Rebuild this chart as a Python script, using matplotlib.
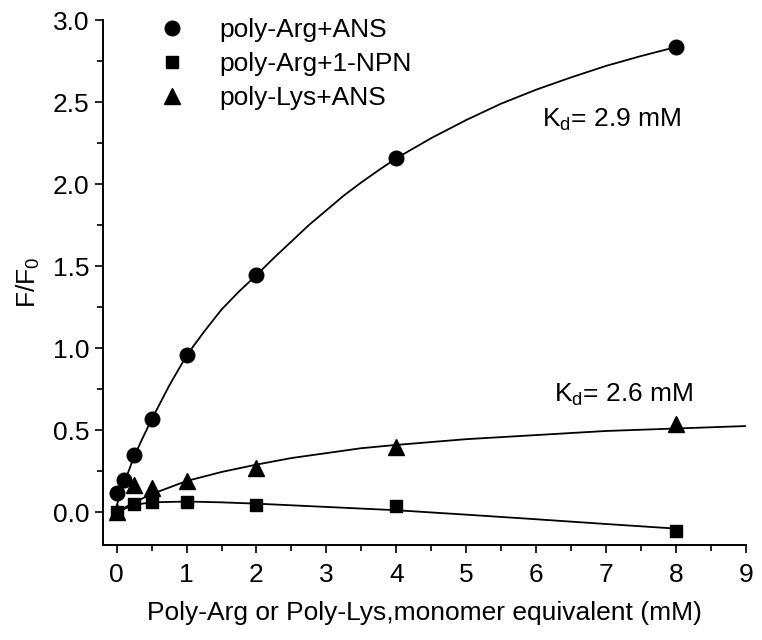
import numpy as np
import matplotlib
matplotlib.use('Agg')
import matplotlib.pyplot as plt
from matplotlib.ticker import MultipleLocator

plt.rcParams['font.family'] = ['Liberation Sans', 'DejaVu Sans']
plt.rcParams['mathtext.default'] = 'regular'

# measured points
arg_ans_x = [0.0, 0.1, 0.25, 0.5, 1, 2, 4, 8]
arg_ans_y = [0.12, 0.195, 0.35, 0.565, 0.957, 1.445, 2.157, 2.837]
arg_npn_x = [0.0, 0.25, 0.5, 1, 2, 4, 8]
arg_npn_y = [0.0, 0.05, 0.063, 0.063, 0.045, 0.037, -0.112]
lys_ans_x = [0.0, 0.25, 0.5, 1, 2, 4, 8]
lys_ans_y = [0.0, 0.165, 0.145, 0.19, 0.27, 0.398, 0.54]

# fitted curves
fit_arg_ans_x = [0, 0.1, 0.25, 0.375, 0.5, 0.75, 1, 1.25, 1.5, 1.75, 2, 2.25, 2.5, 2.75, 3, 3.25, 3.5, 3.75, 4,
                 4.5, 5, 5.5, 6, 6.5, 7, 7.5, 8]
fit_arg_ans_y = [0.04, 0.17, 0.34, 0.455, 0.565, 0.77, 0.955, 1.10, 1.235, 1.345, 1.445, 1.55, 1.65, 1.75, 1.84,
                 1.93, 2.01, 2.085, 2.157, 2.28, 2.39, 2.49, 2.575, 2.65, 2.72, 2.78, 2.835]
fit_arg_npn_x = [0, 0.25, 0.5, 1, 1.5, 2, 3, 4, 5, 6, 7, 8]
fit_arg_npn_y = [0.0, 0.045, 0.06, 0.065, 0.06, 0.052, 0.032, 0.012, -0.015, -0.043, -0.072, -0.10]
fit_lys_ans_x = [0, 0.25, 0.5, 0.75, 1, 1.5, 2, 2.5, 3, 3.5, 4, 5, 6, 7, 8, 9]
fit_lys_ans_y = [0.0, 0.06, 0.11, 0.15, 0.19, 0.245, 0.29, 0.33, 0.36, 0.39, 0.41, 0.445, 0.47, 0.495, 0.51, 0.525]

fig = plt.figure(figsize=(7.62, 6.4), dpi=100)
ax = fig.add_axes([102.7/762, 1-545/640, 643/762, 525/640])

ax.plot(fit_arg_ans_x, fit_arg_ans_y, color='black', lw=1.3, zorder=2)
ax.plot(fit_arg_npn_x, fit_arg_npn_y, color='black', lw=1.3, zorder=2)
ax.plot(fit_lys_ans_x, fit_lys_ans_y, color='black', lw=1.3, zorder=2)

ax.plot(arg_ans_x, arg_ans_y, 'o', color='black', ms=10.5, ls='none', label='poly-Arg+ANS', zorder=3)
ax.plot(arg_npn_x, arg_npn_y, 's', color='black', ms=8, ls='none', label='poly-Arg+1-NPN', zorder=3)
ax.plot(lys_ans_x, lys_ans_y, '^', color='black', ms=11, ls='none', label='poly-Lys+ANS', zorder=3)

ax.set_xlim(-0.2, 9)
ax.set_ylim(-0.2, 3.0)
ax.xaxis.set_major_locator(MultipleLocator(1))
ax.xaxis.set_minor_locator(MultipleLocator(0.5))
ax.yaxis.set_major_locator(MultipleLocator(0.5))
ax.yaxis.set_minor_locator(MultipleLocator(0.25))
ax.yaxis.set_major_formatter(matplotlib.ticker.FormatStrFormatter('%.1f'))

for s in ['top', 'right']:
  ax.spines[s].set_visible(False)
for s in ['left', 'bottom']:
  ax.spines[s].set_linewidth(1.4)
ax.tick_params(which='major', direction='out', length=6, width=1.2, labelsize=19)
ax.tick_params(axis='x', which='major', pad=7)
ax.tick_params(which='minor', direction='out', length=4, width=1.2)

ax.set_xlabel('Poly-Arg or Poly-Lys,monomer equivalent (mM)', fontsize=19, labelpad=10)
ax.set_ylabel('F/F$_0$', fontsize=19, labelpad=8)

ax.text(6.08, 2.35, 'K$_d$= 2.9 mM', fontsize=19, va='baseline', ha='left')
ax.text(6.26, 0.673, 'K$_d$= 2.6 mM', fontsize=19, va='baseline', ha='left')

ax.legend(loc='upper left', bbox_to_anchor=(159/762, 1-18/640), bbox_transform=fig.transFigure,
          frameon=False, fontsize=19, handlelength=1.0, handletextpad=1.3, labelspacing=0.38,
          borderpad=0, borderaxespad=0)

plt.savefig('out.png', dpi=100)
